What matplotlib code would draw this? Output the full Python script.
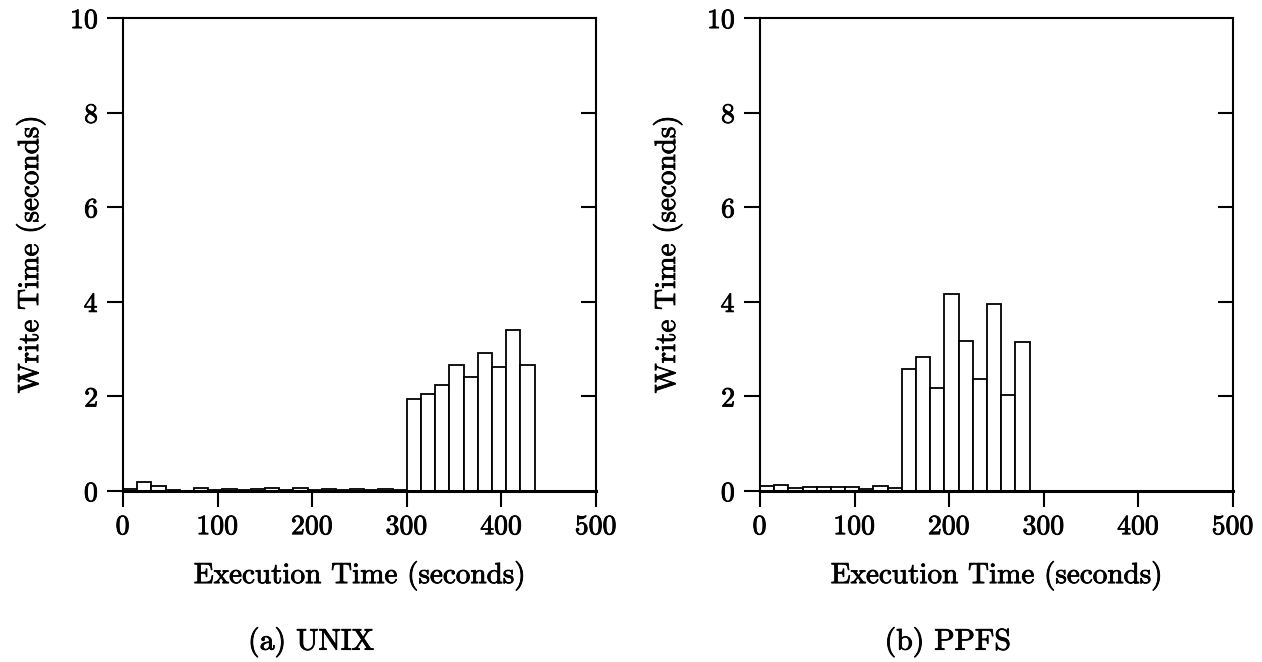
import matplotlib
matplotlib.use("Agg")
import matplotlib.pyplot as plt
import matplotlib.patheffects as pe
import numpy as np

plt.rcParams['font.family'] = ['cmr10', 'DejaVu Serif']
plt.rcParams['axes.formatter.use_mathtext'] = True

# bins of 15 s, starting at 0
bin_width = 15
unix_write = [0.05, 0.18, 0.11, 0.03, 0.01, 0.07, 0.02, 0.05, 0.02, 0.04,
              0.07, 0.02, 0.07, 0.02, 0.04, 0.02, 0.04, 0.02, 0.04, 0.02,
              1.94, 2.06, 2.25, 2.67, 2.40, 2.92, 2.63, 3.41, 2.67]
ppfs_write = [0.10, 0.13, 0.07, 0.09, 0.09, 0.09, 0.09, 0.04, 0.11, 0.07,
              2.57, 2.84, 2.18, 4.17, 3.17, 2.37, 3.95, 2.03, 3.14]

x_ticks = [0, 100, 200, 300, 400, 500]
y_ticks = [0, 2, 4, 6, 8, 10]
# caption, data, axes left, caption centre (figure fraction)
panels = [("(a) UNIX", unix_write, 0.0975, 0.2465),
          ("(b) PPFS", ppfs_write, 0.6022, 0.751)]

FS = 20
bold = [pe.withStroke(linewidth=0.6, foreground='black')]

fig = plt.figure(figsize=(12.62, 6.62), dpi=100)

for caption, values, left, cap_x in panels:
    ax = fig.add_axes([left, 0.2583, 0.3748, 0.7145])
    starts = np.arange(len(values)) * bin_width
    ax.bar(starts, values, width=bin_width, align='edge',
           facecolor='white', edgecolor='black', linewidth=1.3, zorder=2)
    ax.set_xlim(0, 500)
    ax.set_ylim(0, 10)
    for s in ax.spines.values():
        s.set_linewidth(1.5)
    ax.spines['bottom'].set_linewidth(2.2)
    ax.spines['bottom'].set_zorder(3)
    ax.set_xticks(x_ticks)
    ax.set_yticks(y_ticks)
    ax.tick_params(axis='both', direction='out', length=11.5, width=1.5,
                   labelsize=FS)
    ax.tick_params(axis='x', pad=5)
    ax.tick_params(axis='y', pad=6)
    for lab in ax.get_xticklabels() + ax.get_yticklabels():
        lab.set_path_effects(bold)
    # inward ticks on the right edge
    ax2 = ax.twinx()
    ax2.set_ylim(0, 10)
    ax2.set_yticks([2, 4, 6, 8])
    ax2.set_yticklabels([])
    ax2.tick_params(axis='y', direction='in', length=11, width=1.5)
    for s in ax2.spines.values():
        s.set_visible(False)
    ax.set_ylabel("Write Time (seconds)", fontsize=21, labelpad=18,
                  path_effects=bold)
    ax.set_xlabel("Execution Time (seconds)", fontsize=21, labelpad=15,
                  path_effects=bold)
    fig.text(cap_x, 0.030, caption, ha='center', va='center',
             fontsize=21.5, path_effects=bold)

fig.savefig("out.png", dpi=100, facecolor='white')
